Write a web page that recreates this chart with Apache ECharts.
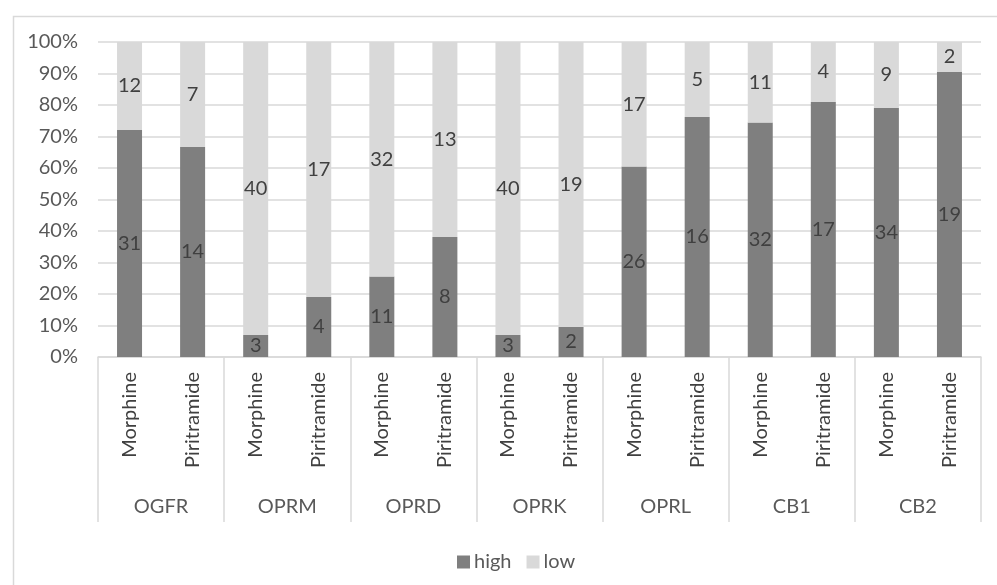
<!DOCTYPE html>
<html>
<head>
<meta charset="utf-8">
<script src="https://cdn.jsdelivr.net/npm/echarts@6/dist/echarts.min.js"></script>
<style>html,body{margin:0;padding:0;background:#fff;}#c{width:997px;height:585px;}</style>
</head>
<body>
<div id="c"></div>
<script>
const groups = ['OGFR', 'OPRM', 'OPRD', 'OPRK', 'OPRL', 'CB1', 'CB2'];
const drugs = ['Morphine', 'Piritramide'];
const highCounts = [31, 14, 3, 4, 11, 8, 3, 2, 26, 16, 32, 17, 34, 19];
const lowCounts  = [12, 7, 40, 17, 32, 13, 40, 19, 17, 5, 11, 4, 9, 2];
const yTicks = [0, 10, 20, 30, 40, 50, 60, 70, 80, 90, 100];

const categories = [];
groups.forEach(() => drugs.forEach(d => categories.push(d)));
const totals = highCounts.map((h, i) => h + lowCounts[i]);
const highPct = highCounts.map((h, i) => ({ value: h / totals[i] * 100, count: h }));
const lowPct = lowCounts.map((l, i) => ({ value: l / totals[i] * 100, count: l }));

const FONT = 'Lato';
const chart = echarts.init(document.getElementById('c'), null, { renderer: 'canvas' });
chart.setOption({
  animation: false,
  backgroundColor: '#fff',
  textStyle: { fontFamily: FONT },
  graphic: [{
    type: 'rect', left: 11, top: 14, z: -10,
    shape: { width: 1100, height: 700 },
    style: { fill: 'none', stroke: '#d9d9d9', lineWidth: 1.5 }
  }],
  grid: { left: 98, right: 16, top: 42, bottom: 228, containLabel: false },
  legend: {
    left: 452, top: 547, itemWidth: 13, itemHeight: 13, itemGap: 15,
    icon: 'rect',
    textStyle: { fontFamily: FONT, fontSize: 20, color: '#595959', padding: [0, 0, 0, -1] },
    data: ['high', 'low']
  },
  xAxis: [{
    type: 'category', data: categories, position: 'bottom',
    axisLine: { show: true, lineStyle: { color: '#d9d9d9', width: 1.5 } },
    axisTick: { show: false },
    axisLabel: { rotate: 90, interval: 0, margin: 15, color: '#404040', fontFamily: FONT, fontSize: 20 }
  }, {
    type: 'category', data: groups, position: 'bottom', gridIndex: 0,
    axisLine: { show: false },
    axisTick: { show: true, length: 165, alignWithLabel: false, interval: 0, lineStyle: { color: '#d9d9d9', width: 1.5 } },
    axisLabel: { interval: 0, margin: 140, color: '#595959', fontFamily: FONT, fontSize: 20 }
  }],
  yAxis: {
    type: 'value', min: yTicks[0], max: yTicks[yTicks.length - 1], interval: 10,
    axisLine: { show: false }, axisTick: { show: false },
    splitLine: { lineStyle: { color: '#d9d9d9', width: 1.5 } },
    axisLabel: { formatter: '{value}%', margin: 20, color: '#595959', fontFamily: FONT, fontSize: 20 }
  },
  series: [{
    name: 'high', type: 'bar', stack: 'all', data: highPct, barWidth: 25,
    itemStyle: { color: '#7f7f7f' },
    label: { show: true, position: 'inside', formatter: p => p.data.count, color: '#404040', fontFamily: FONT, fontSize: 20 }
  }, {
    name: 'low', type: 'bar', stack: 'all', data: lowPct, barWidth: 25,
    itemStyle: { color: '#d9d9d9' },
    label: { show: true, position: 'inside', formatter: p => p.data.count, color: '#404040', fontFamily: FONT, fontSize: 20 }
  }]
});
</script>
</body>
</html>
